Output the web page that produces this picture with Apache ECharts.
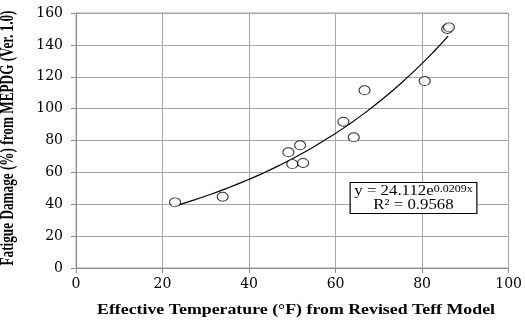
<!DOCTYPE html>
<html><head><meta charset="utf-8">
<script src="https://cdn.jsdelivr.net/npm/echarts@6/dist/echarts.min.js"></script>
<style>html,body{margin:0;padding:0;background:#fff}#c{width:525px;height:321px}</style>
</head><body><div id="c"></div>
<script>
const tempF = [22.9, 33.9, 49.1, 51.8, 50.0, 52.5, 61.8, 64.2, 66.7, 80.6, 85.8, 86.2];
const damage = [41.2, 44.7, 72.6, 77.0, 65.2, 65.9, 91.8, 82.0, 111.5, 117.3, 150.0, 151.0];
const fitA = 24.112, fitB = 0.0209, fitR2 = 0.9568;
const fitX = [23, 27, 31, 35, 39, 43, 47, 51, 55, 59, 63, 67, 71, 75, 79, 83, 86];
const xTicks = [0, 20, 40, 60, 80, 100];
const yTicks = [0, 20, 40, 60, 80, 100, 120, 140, 160];
const xTitle = 'Effective Temperature (°F) from Revised Teff Model';
const yTitle = 'Fatigue Damage (%) from MEPDG (Ver. 1.0)';

const pts = tempF.map((x, i) => [x, damage[i]]);
const fit = fitX.map(x => [x, fitA * Math.exp(fitB * x)]);
const serif = '"Liberation Serif", "Times New Roman", serif';
const wideSerif = '"DejaVu Serif", serif';
function textW(s, font) {
  const c = document.createElement('canvas').getContext('2d');
  c.font = font; return c.measureText(s).width;
}
const xTitleW = textW(xTitle, 'bold 14px "Liberation Serif"');
const yTitleW = textW(yTitle, 'bold 15px "Liberation Serif"');

const chart = echarts.init(document.getElementById('c'));
chart.setOption({
  animation: false,
  grid: {left: 76, right: 13, top: 13, bottom: 53, show: true, borderColor: '#a6a6a6', borderWidth: 1},
  xAxis: {
    type: 'value', min: 0, max: 100, interval: 20,
    axisLine: {lineStyle: {color: '#8c8c8c'}},
    axisTick: {show: true, length: 5, lineStyle: {color: '#8c8c8c'}},
    axisLabel: {fontFamily: wideSerif, fontSize: 14, color: '#000', margin: 9,
      formatter: v => xTicks.includes(v) ? String(v) : ''},
    splitLine: {lineStyle: {color: '#a6a6a6', width: 1}}
  },
  yAxis: {
    type: 'value', min: 0, max: 160, interval: 20,
    axisLine: {show: true, lineStyle: {color: '#8c8c8c'}},
    axisTick: {show: true, length: 5, lineStyle: {color: '#8c8c8c'}},
    axisLabel: {fontFamily: wideSerif, fontSize: 14, color: '#000', margin: 13,
      formatter: v => yTicks.includes(v) ? String(v) : ''},
    splitLine: {lineStyle: {color: '#a6a6a6', width: 1}}
  },
  series: [
    {type: 'line', data: fit, smooth: true, symbol: 'none', lineStyle: {color: '#000', width: 1.2}, z: 2},
    {type: 'scatter', data: pts, symbol: 'circle', symbolSize: [11, 9],
      itemStyle: {color: '#fff', borderColor: '#000', borderWidth: 1}, z: 3}
  ],
  graphic: [
    {
      type: 'text', x: 296, y: 310, scaleX: 398 / xTitleW, z: 10,
      style: {text: xTitle, fontFamily: serif, fontWeight: 'bold', fontSize: 14, fill: '#000',
        align: 'center', verticalAlign: 'middle'}
    },
    {
      type: 'text', x: 8.5, y: 138, rotation: Math.PI / 2, scaleX: 255 / yTitleW, scaleY: 1.2, z: 10,
      style: {text: yTitle, fontFamily: serif, fontWeight: 'bold', fontSize: 15, fill: '#000',
        align: 'center', verticalAlign: 'middle'}
    },
    {
      type: 'text', x: 413.5, y: 183, scaleX: 1.2, z: 10,
      style: {
        text: '{a|y = ' + fitA.toFixed(3) + 'e}{s|' + fitB + 'x}\n{a|R² = ' + fitR2 + '}',
        rich: {
          a: {fontFamily: serif, fontSize: 14, fill: '#000', lineHeight: 14},
          s: {fontFamily: serif, fontSize: 10, fill: '#000', verticalAlign: 'top', lineHeight: 14}
        },
        align: 'center', verticalAlign: 'top',
        backgroundColor: '#fff', borderColor: '#000', borderWidth: 1,
        padding: [1, 3, 1, 3]
      }
    }
  ]
});
</script></body></html>
